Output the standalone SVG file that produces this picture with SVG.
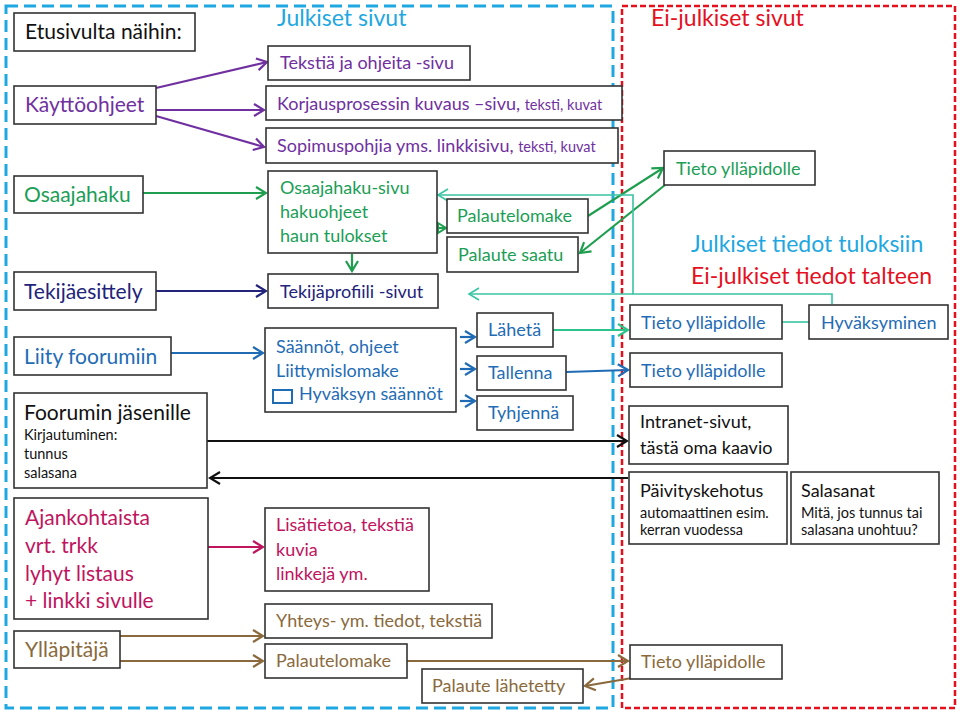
<svg xmlns="http://www.w3.org/2000/svg" width="960" height="713" viewBox="0 0 960 713">
<style>
text{font-family:Lato,"Open Sans","Liberation Sans",sans-serif}
.b{fill:#fff;stroke:#333;stroke-width:1.6}
.L{font-size:21px}
.M{font-size:18px}
.S{font-size:14.5px}
.T{font-size:23px}
.pu{fill:#7030a0}.gr{fill:#1b9e56}.nv{fill:#22237a}.bl{fill:#1f6cb5}.mg{fill:#c0145e}.br{fill:#8a6a3c}.bk{fill:#111}.cy{fill:#1ea7e0}.rd{fill:#e5101e}
.c{fill:none;stroke-width:2.2}
</style>
<defs>
<marker id="mPu" viewBox="-12 -8 14 16" markerWidth="14" markerHeight="16" refX="0" refY="0" orient="auto" markerUnits="userSpaceOnUse"><path d="M-10,-6 L0,0 L-10,6" fill="none" stroke="#7030a0" stroke-width="2.2"/></marker>
<marker id="mGr" viewBox="-12 -8 14 16" markerWidth="14" markerHeight="16" refX="0" refY="0" orient="auto" markerUnits="userSpaceOnUse"><path d="M-10,-6 L0,0 L-10,6" fill="none" stroke="#1e9e4e" stroke-width="2.2"/></marker>
<marker id="mGt" viewBox="-12 -8 14 16" markerWidth="14" markerHeight="16" refX="0" refY="0" orient="auto" markerUnits="userSpaceOnUse"><path d="M-8,-5 L0,0 L-8,5 Z" fill="none" stroke="#1e9e4e" stroke-width="2"/></marker>
<marker id="mNv" viewBox="-12 -8 14 16" markerWidth="14" markerHeight="16" refX="0" refY="0" orient="auto" markerUnits="userSpaceOnUse"><path d="M-10,-6 L0,0 L-10,6" fill="none" stroke="#22237a" stroke-width="2.2"/></marker>
<marker id="mBl" viewBox="-12 -8 14 16" markerWidth="14" markerHeight="16" refX="0" refY="0" orient="auto" markerUnits="userSpaceOnUse"><path d="M-10,-6 L0,0 L-10,6" fill="none" stroke="#1f6cb5" stroke-width="2.2"/></marker>
<marker id="mTl" viewBox="-12 -8 14 16" markerWidth="14" markerHeight="16" refX="0" refY="0" orient="auto" markerUnits="userSpaceOnUse"><path d="M-10,-6 L0,0 L-10,6" fill="none" stroke="#38c4a2" stroke-width="1.6"/></marker>
<marker id="mLg" viewBox="-12 -8 14 16" markerWidth="14" markerHeight="16" refX="0" refY="0" orient="auto" markerUnits="userSpaceOnUse"><path d="M-10,-6 L0,0 L-10,6" fill="none" stroke="#2cc48a" stroke-width="2.2"/></marker>
<marker id="mBk" viewBox="-12 -8 14 16" markerWidth="14" markerHeight="16" refX="0" refY="0" orient="auto" markerUnits="userSpaceOnUse"><path d="M-10,-6 L0,0 L-10,6" fill="none" stroke="#111" stroke-width="2.2"/></marker>
<marker id="mMg" viewBox="-12 -8 14 16" markerWidth="14" markerHeight="16" refX="0" refY="0" orient="auto" markerUnits="userSpaceOnUse"><path d="M-10,-6 L0,0 L-10,6" fill="none" stroke="#c0145e" stroke-width="2.2"/></marker>
<marker id="mBr" viewBox="-12 -8 14 16" markerWidth="14" markerHeight="16" refX="0" refY="0" orient="auto" markerUnits="userSpaceOnUse"><path d="M-10,-6 L0,0 L-10,6" fill="none" stroke="#8a6a3c" stroke-width="2.2"/></marker>
</defs>
<rect width="960" height="713" fill="#fff"/>
<g id="regions">
<rect x="6" y="6" width="607" height="702" fill="none" stroke="#1ea7e0" stroke-width="3" stroke-dasharray="12 6"/>
<rect x="622" y="6" width="333" height="702" fill="none" stroke="#e5101e" stroke-width="2.5" stroke-dasharray="6 3"/>
<text class="T cy" x="277" y="26">Julkiset sivut</text>
<text class="T rd" x="651" y="26">Ei-julkiset sivut</text>
<text class="T cy" x="691" y="252">Julkiset tiedot tuloksiin</text>
<text class="T rd" x="691" y="284">Ei-julkiset tiedot talteen</text>
</g>
<g id="connectors">
<path class="c" stroke="#7030a0" d="M156,88 L267,62" marker-end="url(#mPu)"/>
<path class="c" stroke="#7030a0" d="M156,110 L264,110" marker-end="url(#mPu)"/>
<path class="c" stroke="#7030a0" d="M156,116 L264,147" marker-end="url(#mPu)"/>
<path class="c" stroke="#1e9e4e" d="M143,193 L266,193" marker-end="url(#mGr)"/>
<path class="c" stroke="#22237a" d="M156,291 L266,291" marker-end="url(#mNv)"/>
<path class="c" stroke="#1f6cb5" d="M171,353 L263,353" marker-end="url(#mBl)"/>
<path class="c" stroke="#111" d="M207,441 L627,441" marker-end="url(#mBk)"/>
<path class="c" stroke="#111" d="M628,478 L210,478" marker-end="url(#mBk)"/>
<path class="c" stroke="#c0145e" d="M208,547 L263,547" marker-end="url(#mMg)"/>
<path class="c" stroke="#8a6a3c" d="M120,636 L263,636" marker-end="url(#mBr)"/>
<path class="c" stroke="#8a6a3c" d="M120,661 L263,661" marker-end="url(#mBr)"/>
<path class="c" stroke="#8a6a3c" d="M407,661 L628,661" marker-end="url(#mBr)"/>
<path class="c" stroke="#8a6a3c" d="M632,678 L585,686" marker-end="url(#mBr)"/>
<path class="c" stroke="#1e9e4e" d="M352,254 L352,271" marker-end="url(#mGr)"/>
<path class="c" stroke="#1e9e4e" d="M436,228 L446,228" marker-end="url(#mGt)"/>
<path class="c" stroke="#1e9e4e" d="M588,216 L663,168" marker-end="url(#mGr)"/>
<path class="c" stroke="#1e9e4e" d="M665,185 L580,253" marker-end="url(#mGr)"/>
<path fill="none" stroke="#38c4a2" stroke-width="1.6" d="M832,304 L832,294 L633,294 L633,195 L438,195" marker-end="url(#mTl)"/>
<path fill="none" stroke="#38c4a2" stroke-width="1.6" d="M633,294 L469,294" marker-end="url(#mTl)"/>
<path fill="none" stroke="#38c4a2" stroke-width="1.6" d="M782,322 L809,322"/>
<path class="c" stroke="#1f6cb5" d="M460,337 L475,337" marker-end="url(#mBl)"/>
<path class="c" stroke="#1f6cb5" d="M460,369 L475,369" marker-end="url(#mBl)"/>
<path class="c" stroke="#1f6cb5" d="M460,401 L475,401" marker-end="url(#mBl)"/>
<path class="c" stroke="#2cc48a" d="M553,330 L628,330" marker-end="url(#mLg)"/>
<path class="c" stroke="#1f6cb5" d="M566,372 L628,370" marker-end="url(#mBl)"/>
</g>
<g id="n-etusivu"><rect class="b" x="14" y="13" width="181" height="38"/><text class="L bk" x="25" y="39">Etusivulta näihin:</text></g>
<g id="n-kaytto"><rect class="b" x="14" y="86" width="142" height="38"/><text class="L pu" x="25" y="112">Käyttöohjeet</text></g>
<g id="n-osaajahaku"><rect class="b" x="14" y="176" width="129" height="37"/><text class="L gr" x="24" y="202">Osaajahaku</text></g>
<g id="n-tekija"><rect class="b" x="14" y="272" width="142" height="38"/><text class="L nv" x="24" y="299">Tekijäesittely</text></g>
<g id="n-liity"><rect class="b" x="14" y="337" width="157" height="38"/><text class="L bl" x="24" y="364">Liity foorumiin</text></g>
<g id="n-foorumi"><rect class="b" x="14" y="393" width="193" height="95"/><text class="L bk" x="24" y="420">Foorumin jäsenille</text><text class="S bk" x="24" y="440">Kirjautuminen:</text><text class="S bk" x="24" y="459">tunnus</text><text class="S bk" x="24" y="478">salasana</text></g>
<g id="n-ajank"><rect class="b" x="14" y="498" width="194" height="121"/><text class="L mg" x="25" y="525">Ajankohtaista</text><text class="L mg" x="25" y="553">vrt. trkk</text><text class="L mg" x="25" y="581">lyhyt listaus</text><text class="L mg" x="25" y="608">+ linkki sivulle</text></g>
<g id="n-yllapitaja"><rect class="b" x="14" y="631" width="106" height="37"/><text class="L br" x="25" y="657">Ylläpitäjä</text></g>
<g id="n-tekstia"><rect class="b" x="268" y="46" width="202" height="34"/><text class="M pu" x="280" y="69">Tekstiä ja ohjeita -sivu</text></g>
<g id="n-korjaus"><rect class="b" x="266" y="86" width="356" height="34"/><text class="M pu" x="277" y="110">Korjausprosessin kuvaus –sivu, <tspan class="S">teksti, kuvat</tspan></text></g>
<g id="n-sopimus"><rect class="b" x="266" y="128" width="352" height="35"/><text class="M pu" x="277" y="152">Sopimuspohjia yms. linkkisivu, <tspan class="S">teksti, kuvat</tspan></text></g>
<g id="n-osaajasivu"><rect class="b" x="268" y="171" width="169" height="82"/><text class="M gr" x="280" y="194">Osaajahaku-sivu</text><text class="M gr" x="280" y="218">hakuohjeet</text><text class="M gr" x="280" y="242">haun tulokset</text></g>
<g id="n-palautelomake1"><rect class="b" x="447" y="199" width="141" height="34"/><text class="M gr" x="457" y="222">Palautelomake</text></g>
<g id="n-palautesaatu"><rect class="b" x="447" y="237" width="131" height="35"/><text class="M gr" x="458" y="261">Palaute saatu</text></g>
<g id="n-tekijaprof"><rect class="b" x="268" y="274" width="170" height="34"/><text class="M nv" x="280" y="298">Tekijäprofiili -sivut</text></g>
<g id="n-saannot"><rect class="b" x="265" y="328" width="191" height="84"/><text class="M bl" x="276" y="353">Säännöt, ohjeet</text><text class="M bl" x="276" y="377">Liittymislomake</text><rect x="273" y="390" width="19" height="13" fill="none" stroke="#1f6cb5" stroke-width="2"/><text class="M bl" x="299" y="400">Hyväksyn säännöt</text></g>
<g id="n-laheta"><rect class="b" x="477" y="313" width="76" height="34"/><text class="M bl" x="488" y="336">Lähetä</text></g>
<g id="n-tallenna"><rect class="b" x="477" y="356" width="89" height="34"/><text class="M bl" x="488" y="379">Tallenna</text></g>
<g id="n-tyhjenna"><rect class="b" x="477" y="396" width="96" height="34"/><text class="M bl" x="488" y="419">Tyhjennä</text></g>
<g id="n-lisatietoa"><rect class="b" x="265" y="508" width="164" height="83"/><text class="M mg" x="276" y="531">Lisätietoa, tekstiä</text><text class="M mg" x="276" y="556">kuvia</text><text class="M mg" x="276" y="580">linkkejä ym.</text></g>
<g id="n-yhteys"><rect class="b" x="265" y="604" width="227" height="34"/><text class="M br" x="276" y="627">Yhteys- ym. tiedot, tekstiä</text></g>
<g id="n-palautelomake2"><rect class="b" x="265" y="644" width="142" height="34"/><text class="M br" x="276" y="667">Palautelomake</text></g>
<g id="n-lahetetty"><rect class="b" x="422" y="669" width="161" height="34"/><text class="M br" x="432" y="692">Palaute lähetetty</text></g>
<g id="n-tieto-gr"><rect class="b" x="664" y="151" width="151" height="34"/><text class="M gr" x="676" y="175">Tieto ylläpidolle</text></g>
<g id="n-tieto-bl1"><rect class="b" x="630" y="305" width="152" height="34"/><text class="M bl" x="641" y="329">Tieto ylläpidolle</text></g>
<g id="n-hyvaksyminen"><rect class="b" x="809" y="305" width="139" height="34"/><text class="M bl" x="821" y="329">Hyväksyminen</text></g>
<g id="n-tieto-bl2"><rect class="b" x="630" y="353" width="152" height="34"/><text class="M bl" x="641" y="377">Tieto ylläpidolle</text></g>
<g id="n-intranet"><rect class="b" x="629" y="406" width="159" height="58"/><text class="M bk" x="640" y="428">Intranet-sivut,</text><text class="M bk" x="640" y="454">tästä oma kaavio</text></g>
<g id="n-paivitys"><rect class="b" x="629" y="472" width="158" height="72"/><text class="M bk" x="640" y="497">Päivityskehotus</text><text class="S bk" x="640" y="518">automaattinen esim.</text><text class="S bk" x="640" y="535">kerran vuodessa</text></g>
<g id="n-salasanat"><rect class="b" x="791" y="472" width="148" height="72"/><text class="M bk" x="801" y="497">Salasanat</text><text class="S bk" x="801" y="518">Mitä, jos tunnus tai</text><text class="S bk" x="801" y="535">salasana unohtuu?</text></g>
<g id="n-tieto-br"><rect class="b" x="630" y="645" width="152" height="34"/><text class="M br" x="641" y="668">Tieto ylläpidolle</text></g>
</svg>
